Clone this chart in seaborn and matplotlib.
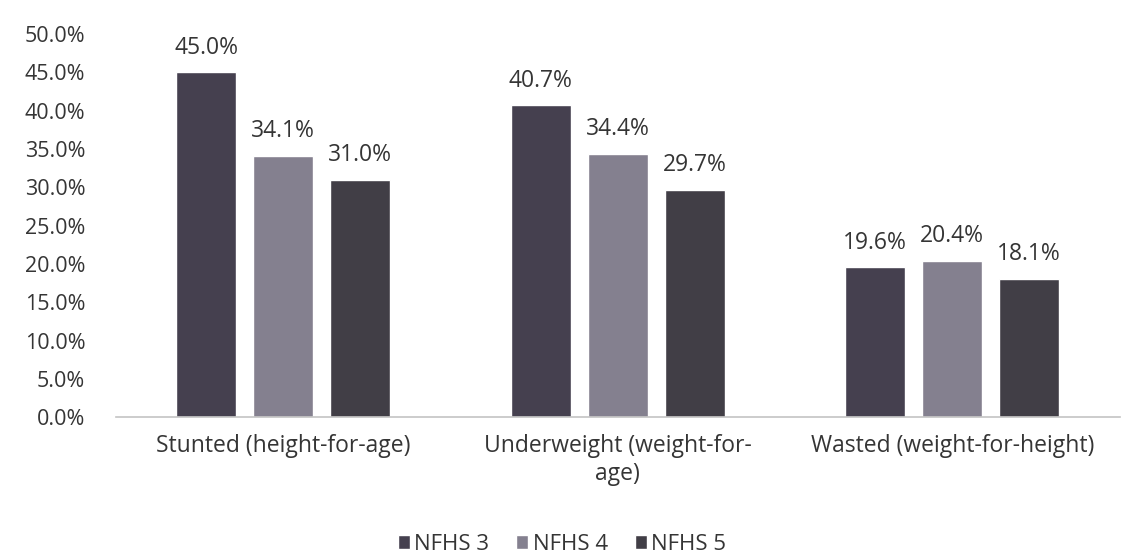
import matplotlib
matplotlib.use("Agg")
import matplotlib.pyplot as plt
import seaborn as sns
import pandas as pd
from matplotlib.ticker import FuncFormatter, MultipleLocator

categories = ["Stunted (height-for-age)", "Underweight (weight-for-\nage)", "Wasted (weight-for-height)"]
surveys = ["NFHS 3", "NFHS 4", "NFHS 5"]
nfhs3 = [45.0, 40.7, 19.6]
nfhs4 = [34.1, 34.4, 20.4]
nfhs5 = [31.0, 29.7, 18.1]
colors = ["#45404f", "#84808f", "#413e46"]

df = pd.DataFrame({
    "Indicator": categories * 3,
    "Survey": [s for s in surveys for _ in categories],
    "Value": nfhs3 + nfhs4 + nfhs5,
})

sns.set_theme(style="white")
plt.rcParams["font.family"] = ["Open Sans", "DejaVu Sans"]
text_col = "#353535"

fig = plt.figure(figsize=(11.24, 5.58), dpi=100)
ax = fig.add_axes([0.103, 0.252, 0.893, 0.687])

sns.barplot(data=df, x="Indicator", y="Value", hue="Survey", order=categories,
            hue_order=surveys, palette=colors, width=0.69, gap=0.22,
            saturation=1, ax=ax, legend=True)

for cont in ax.containers:
    ax.bar_label(cont, fmt="%.1f%%", padding=9, fontsize=16.5, color=text_col)

ax.set_ylim(0, 50)
ax.set_xlim(-0.5, 2.5)
ax.yaxis.set_major_locator(MultipleLocator(5))
ax.yaxis.set_major_formatter(FuncFormatter(lambda v, p: f"{v:.1f}%"))
ax.tick_params(axis="y", length=0, pad=22, labelsize=15.5, labelcolor=text_col)
ax.tick_params(axis="x", length=0, pad=12, labelsize=16.5, labelcolor=text_col)
ax.set_xlabel("")
ax.set_ylabel("")

for side in ["top", "right", "left"]:
    ax.spines[side].set_visible(False)
ax.spines["bottom"].set_color("#c4c4c4")
ax.spines["bottom"].set_linewidth(1.2)

handles, labels = ax.get_legend_handles_labels()
ax.get_legend().remove()
fig.legend(handles, labels, loc="lower center", bbox_to_anchor=(0.5, -0.03), ncol=3,
           frameon=False, fontsize=16, handlelength=0.55, handleheight=0.55,
           handletextpad=0.2, columnspacing=1.2, labelcolor=text_col)

fig.savefig("out.png", dpi=100, facecolor="white")
